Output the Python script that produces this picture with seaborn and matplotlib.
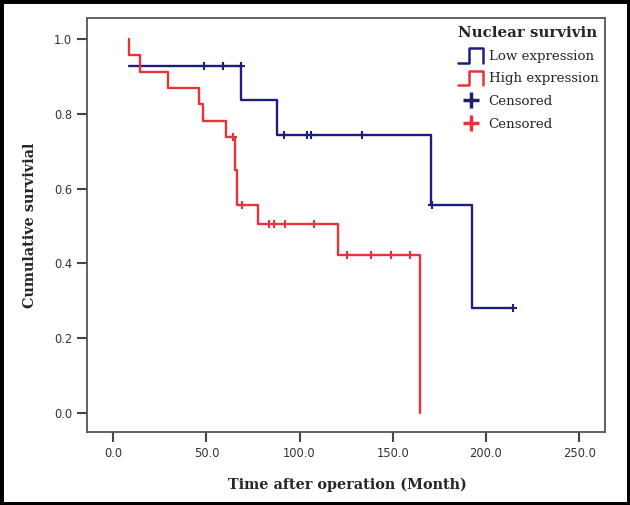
import numpy as np
import pandas as pd
import matplotlib
matplotlib.use("Agg")
import matplotlib.pyplot as plt
from matplotlib.lines import Line2D
from matplotlib.patches import Rectangle
from matplotlib.legend_handler import HandlerBase
import seaborn as sns

# ── Kaplan-Meier step data ────────────────────────────────────────
low_time = [8.4, 68.5, 88.0, 170.4, 192.3, 214.6]
low_surv = [0.929, 0.836, 0.743, 0.557, 0.279, 0.279]
low_cens_time = [48.8, 59.0, 68.5, 91.4, 103.9, 105.9, 133.6, 171.0, 214.6]
low_cens_surv = [0.929, 0.929, 0.929, 0.743, 0.743, 0.743, 0.743, 0.557, 0.279]

high_time = [8.6, 8.6, 14.3, 29.5, 46.1, 48.0, 60.3, 65.3, 66.5, 77.5, 120.7, 164.5]
high_surv = [1.0, 0.957, 0.913, 0.869, 0.826, 0.782, 0.739, 0.650, 0.556, 0.505, 0.421, 0.0]
high_cens_time = [64.4, 68.9, 83.5, 86.2, 92.3, 107.7, 125.2, 138.1, 149.0, 159.5]
high_cens_surv = [0.739, 0.556, 0.505, 0.505, 0.505, 0.505, 0.421, 0.421, 0.421, 0.421]

x_ticks = [0, 50, 100, 150, 200, 250]
y_ticks = [0.0, 0.2, 0.4, 0.6, 0.8, 1.0]

navy = "#1e1e7a"
red = "#e8333b"

df_low = pd.DataFrame({"time": low_time, "surv": low_surv})
df_high = pd.DataFrame({"time": high_time, "surv": high_surv})

sns.set_style("white")
plt.rcParams["font.family"] = ["DejaVu Sans"]

fig = plt.figure(figsize=(6.3, 5.05), dpi=100)
ax = fig.add_axes([0.1386, 0.1446, 0.8214, 0.8192])

sns.lineplot(data=df_low, x="time", y="surv", drawstyle="steps-post",
             estimator=None, sort=False, color=navy, lw=1.7, ax=ax)
sns.lineplot(data=df_high, x="time", y="surv", drawstyle="steps-post",
             estimator=None, sort=False, color=red, lw=1.7, ax=ax)
ax.plot(low_cens_time, low_cens_surv, ls="none", marker="+", ms=6,
        mew=1.5, color=navy)
ax.plot(high_cens_time, high_cens_surv, ls="none", marker="+", ms=6,
        mew=1.5, color=red)

ax.set_xlim(-13.9, 263.8)
ax.set_ylim(-0.052, 1.056)
ax.set_xticks(x_ticks)
ax.set_xticklabels([f"{v:.1f}" for v in x_ticks])
ax.set_yticks(y_ticks)
ax.set_yticklabels([f"{v:.1f}" for v in y_ticks])
ax.tick_params(direction="out", length=7, width=1.5, color="#444444",
               labelsize=8.3, labelcolor="#333333", pad=4,
               bottom=True, left=True)
for sp in ax.spines.values():
    sp.set_color("#555555")
    sp.set_linewidth(1.3)

ax.set_xlabel("Time after operation (Month)", family="DejaVu Serif",
              fontweight="bold", fontsize=10.4)
ax.set_ylabel("Cumulative survivial", family="DejaVu Serif",
              fontweight="bold", fontsize=10.4)
ax.xaxis.set_label_coords(0.503, -0.111)
ax.yaxis.set_label_coords(-0.097, 0.5)


# legend glyph shaped like a small KM step
class StepHandler(HandlerBase):
    def create_artists(self, legend, orig_handle, xdescent, ydescent,
                       width, height, fontsize, trans):
        xs = np.array([0, 0.45, 0.45, 1, 1]) * width - xdescent
        ys = np.array([-0.3, -0.3, 1.25, 1.25, -0.3]) * height - ydescent
        ln = Line2D(xs, ys, color=orig_handle.get_color(),
                    lw=orig_handle.get_linewidth())
        ln.set_transform(trans)
        return [ln]


h_low = Line2D([], [], color=navy, lw=1.8)
h_high = Line2D([], [], color=red, lw=1.8)
h_cl = Line2D([], [], ls="none", marker="+", ms=11, mew=2.5, color=navy)
h_ch = Line2D([], [], ls="none", marker="+", ms=11, mew=2.5, color=red)
leg = ax.legend([h_low, h_high, h_cl, h_ch],
                ["Low expression", "High expression", "Censored", "Censored"],
                handler_map={h_low: StepHandler(), h_high: StepHandler()},
                title="Nuclear survivin", loc="upper left",
                bbox_to_anchor=(0.727, 0.948), bbox_transform=fig.transFigure,
                frameon=False, borderpad=0, borderaxespad=0,
                handlelength=1.9, handletextpad=0.4, labelspacing=0.72,
                prop={"family": "DejaVu Serif", "size": 9.6},
                title_fontproperties={"family": "DejaVu Serif",
                                      "weight": "bold", "size": 10.8})
leg._legend_box.align = "left"

fig.patches.append(Rectangle((0, 0), 1, 1, transform=fig.transFigure,
                             fill=False, edgecolor="black", lw=5))

plt.savefig("out.png", dpi=100)
plt.close()
